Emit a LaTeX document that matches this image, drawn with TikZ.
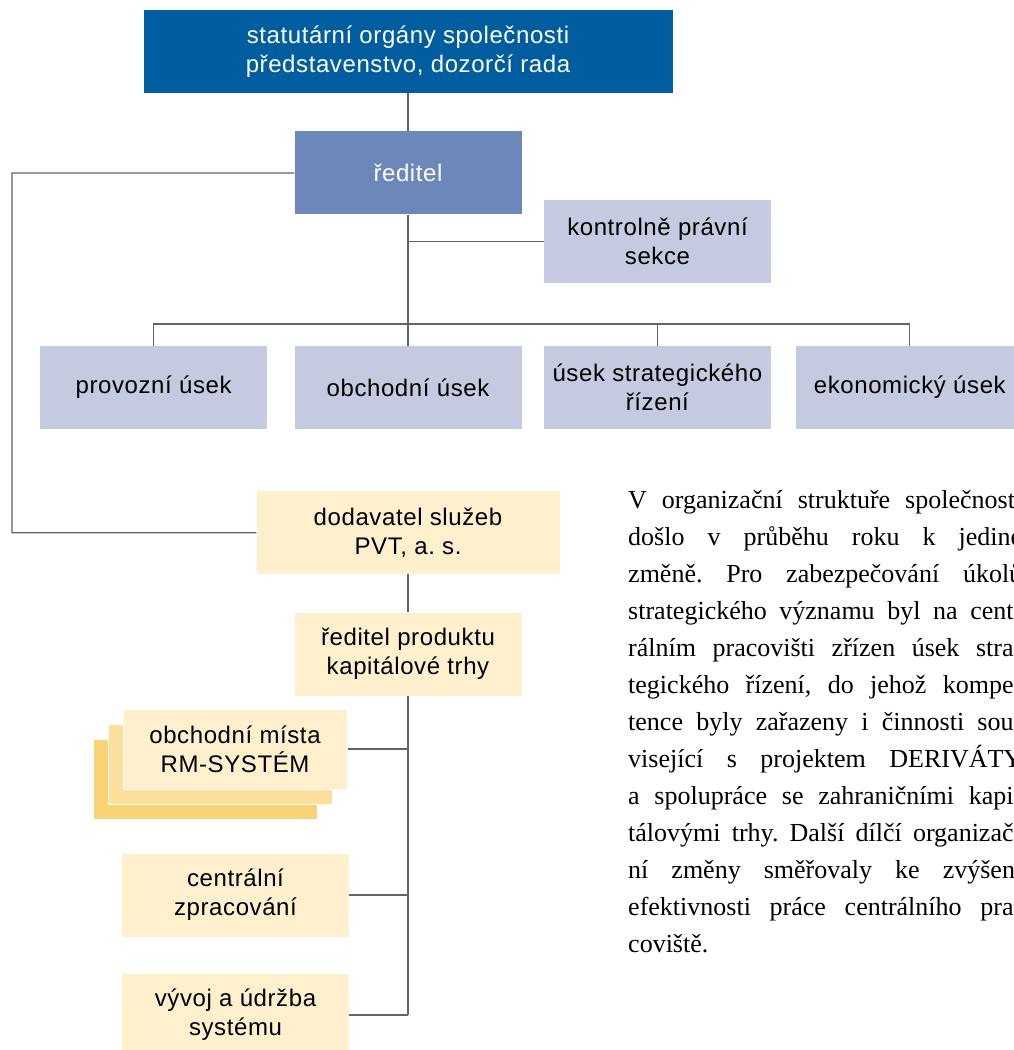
\documentclass[tikz,border=0pt]{standalone}
\usepackage{fontspec}
\setmainfont{Liberation Serif}
\newfontfamily\boxfont[LetterSpace=2.5]{Liberation Sans}
\usetikzlibrary{positioning}

\definecolor{boardblue}{RGB}{0,93,160}
\definecolor{ceoblue}{RGB}{108,136,187}
\definecolor{deptgrey}{RGB}{197,202,224}
\definecolor{pvtlight}{RGB}{254,240,204}
\definecolor{pvtmid}{RGB}{251,223,154}
\definecolor{pvtdark}{RGB}{248,212,118}
\definecolor{linegrey}{RGB}{100,100,100}

\newlength\notewidth
\setlength\notewidth{394pt}
\newcommand\noteline[1]{\hbox to \notewidth{#1}}

\tikzset{
  unit/.style={rectangle, minimum width=227pt, minimum height=83pt, inner sep=0pt,
    align=center, font=\boxfont\fontsize{24}{29}\selectfont},
  dept/.style={unit, fill=deptgrey},
  pvt/.style={unit, fill=pvtlight},
  layer/.style={pvt, draw=white, line width=1pt, minimum width=224pt, minimum height=80pt},
  link/.style={draw=linegrey, line width=1.3pt}
}

\begin{document}
\frenchspacing
\begin{tikzpicture}[x=1pt, y=1pt, node distance=38pt]
 \useasboundingbox (0,0) rectangle (1013,-1050);

 % top of the company
 \node (board) [unit, fill=boardblue, text=white, minimum width=529pt] at (408,-51.5)
   {statutární orgány společnosti\\představenstvo, dozorčí rada};
 \node (ceo) [unit, fill=ceoblue, text=white, below=of board] {ředitel};
 \node (legal) [dept] at (657.5,-241.5) {kontrolně právní\\sekce};

 % departments
 \node (trade) [dept, below=131pt of ceo] {obchodní úsek};
 \node (operations) [dept, left=27pt of trade] {provozní úsek};
 \node (strategy) [dept, right=22pt of trade] {úsek strategického\\řízení};
 \node (economy) [dept, right=25pt of strategy] {ekonomický úsek};

 % supplier branch
 \node (pvt) [pvt, minimum width=303pt, below=62pt of trade] {dodavatel služeb\\PVT, a. s.};
 \node (product) [pvt, below=38pt of pvt] {ředitel produktu\\kapitálové trhy};
 \node (sitesback) [layer, fill=pvtdark] at (205,-779) {};
 \node (sitesmid) [layer, fill=pvtmid] at (220,-764) {};
 \node (sites) [layer] at (235,-749) {obchodní místa\\RM-SYSTÉM};
 \node (central) [pvt] at (235.5,-895) {centrální\\zpracování};
 \node (devel) [pvt] at (235.5,-1015) {vývoj a údržba\\systému};

 \coordinate (bus) at (0,-324);
 \coordinate (rail) at (12,-173);

 \draw[link] (board) -- (ceo);
 \draw[link] (ceo) -- (trade);
 \draw[link] (legal.west) -- (legal.west -| ceo.south);
 \draw[link] (operations.north) |- (economy.north |- bus) -- (economy.north);
 \draw[link] (strategy.north) -- (strategy.north |- bus);
 \draw[link] (ceo.west) -- (rail) |- (pvt.west);
 \draw[link] (pvt) -- (product);
 \draw[link] (product.south) -- (product.south |- devel.east);
 \foreach \n in {sites, central, devel}
   \draw[link] (\n.east) -- (\n.east -| product.south);

 % note beside the chart
 \node (note) [anchor=base west, inner sep=0pt, font=\fontsize{26}{37}\selectfont] at (628,-508)
   {\parbox[t]{\notewidth}{%
     \noteline{V organizační struktuře společnosti}
     \noteline{došlo v průběhu roku k jediné}
     \noteline{změně. Pro zabezpečování úkolů}
     \noteline{strategického významu byl na cent-}
     \noteline{rálním pracovišti zřízen úsek stra-}
     \noteline{tegického řízení, do jehož kompe-}
     \noteline{tence byly zařazeny i činnosti sou-}
     \noteline{visející s projektem DERIVÁTY}
     \noteline{a spolupráce se zahraničními kapi-}
     \noteline{tálovými trhy. Další dílčí organizač-}
     \noteline{ní změny směřovaly ke zvýšení}
     \noteline{efektivnosti práce centrálního pra-}
     \hbox{coviště.}}};
\end{tikzpicture}
\end{document}
